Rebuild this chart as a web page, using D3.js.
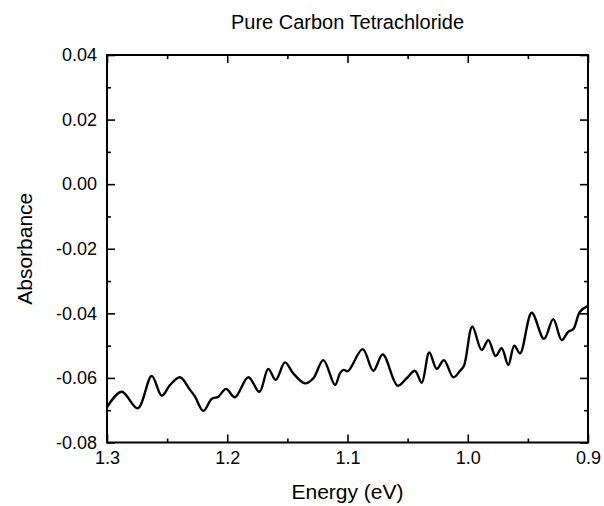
<!DOCTYPE html>
<html lang="en">
<head>
  <meta charset="UTF-8">
  <title>Pure Carbon Tetrachloride</title>
  <script src="https://d3js.org/d3.v7.min.js"></script>
  <style>
    body { margin: 0; background: #fff; }
    text { font-family: 'Liberation Sans', Arial, sans-serif; fill: #000; }
  </style>
</head>
<body>
  <svg width="604" height="506"></svg>
  <script>
    // spectrum (eV, absorbance)
    const energy = [
      1.3000, 1.2878, 1.2745, 1.2628, 1.2545, 1.2476, 1.2393, 1.2310, 1.2268, 1.2199,
      1.2129, 1.2074, 1.2010, 1.1936, 1.1825, 1.1733, 1.1659, 1.1597, 1.1520, 1.1451,
      1.1353, 1.1284, 1.1201, 1.1104, 1.1062, 1.1033, 1.0996, 1.0874, 1.0785, 1.0707,
      1.0583, 1.0508, 1.0439, 1.0383, 1.0320, 1.0258, 1.0198, 1.0120, 1.0064, 1.0031,
      0.9962, 0.9884, 0.9829, 0.9768, 0.9718, 0.9663, 0.9613, 0.9565, 0.9468, 0.9366,
      0.9289, 0.9219, 0.9164, 0.9122, 0.9067, 0.9000
    ];
    const absorbance = [
      -0.0691, -0.0643, -0.0694, -0.0594, -0.0655, -0.0622, -0.0598, -0.0637, -0.0658, -0.0702,
      -0.0665, -0.0658, -0.0634, -0.0660, -0.0598, -0.0643, -0.0572, -0.0606, -0.0552, -0.0586,
      -0.0617, -0.0601, -0.0545, -0.0622, -0.0585, -0.0575, -0.0579, -0.0511, -0.0578, -0.0527,
      -0.0624, -0.0601, -0.0578, -0.0615, -0.0521, -0.0572, -0.0545, -0.0598, -0.0578, -0.0562,
      -0.0441, -0.0514, -0.0483, -0.0532, -0.0508, -0.0560, -0.0500, -0.0524, -0.0398, -0.0479,
      -0.0418, -0.0483, -0.0457, -0.0449, -0.0395, -0.0377
    ];
    const xTicks = [1.3, 1.2, 1.1, 1.0, 0.9];
    const xMinor = [1.25, 1.15, 1.05, 0.95];
    const yTicks = [-0.08, -0.06, -0.04, -0.02, 0.00, 0.02, 0.04];
    const yMinor = [-0.07, -0.05, -0.03, -0.01, 0.01, 0.03];

    const plotL = 107, plotR = 588, plotT = 55, plotB = 442.5;
    const svg = d3.select("svg");

    const x = d3.scaleLinear().domain([1.3, 0.9]).range([plotL, plotR]);
    const y = d3.scaleLinear().domain([-0.08, 0.04]).range([plotB, plotT]);

    // inward ticks on all four sides, labels only bottom/left
    const g = svg.append("g");
    g.append("g").attr("transform", `translate(0,${plotB})`)
      .call(d3.axisBottom(x).tickValues(xTicks).tickSizeInner(-8).tickSizeOuter(0).tickPadding(9).tickFormat(d => d.toFixed(1)));
    g.append("g").attr("transform", `translate(0,${plotB})`)
      .call(d3.axisBottom(x).tickValues(xMinor).tickSizeInner(-4).tickSizeOuter(0).tickFormat(""));
    g.append("g").attr("transform", `translate(0,${plotT})`)
      .call(d3.axisTop(x).tickValues(xTicks).tickSizeInner(-8).tickSizeOuter(0).tickFormat(""));
    g.append("g").attr("transform", `translate(0,${plotT})`)
      .call(d3.axisTop(x).tickValues(xMinor).tickSizeInner(-4).tickSizeOuter(0).tickFormat(""));
    g.append("g").attr("transform", `translate(${plotL},0)`)
      .call(d3.axisLeft(y).tickValues(yTicks).tickSizeInner(-8).tickSizeOuter(0).tickPadding(10).tickFormat(d => d.toFixed(2)));
    g.append("g").attr("transform", `translate(${plotL},0)`)
      .call(d3.axisLeft(y).tickValues(yMinor).tickSizeInner(-4).tickSizeOuter(0).tickFormat(""));
    g.append("g").attr("transform", `translate(${plotR},0)`)
      .call(d3.axisRight(y).tickValues(yTicks).tickSizeInner(-8).tickSizeOuter(0).tickFormat(""));
    g.append("g").attr("transform", `translate(${plotR},0)`)
      .call(d3.axisRight(y).tickValues(yMinor).tickSizeInner(-4).tickSizeOuter(0).tickFormat(""));

    g.selectAll(".domain").remove();
    g.selectAll(".tick line").attr("stroke", "#000").attr("stroke-width", 1.6);
    g.selectAll("g").attr("font-family", null).attr("font-size", null);
    g.selectAll(".tick text").style("font-size", "18px").attr("fill", "#000");

    svg.append("rect")
      .attr("x", plotL).attr("y", plotT)
      .attr("width", plotR - plotL).attr("height", plotB - plotT)
      .attr("fill", "none").attr("stroke", "#000").attr("stroke-width", 2);

    const pts = energy.map((e, i) => [e, absorbance[i]]);
    const line = d3.line()
      .x(d => x(d[0]))
      .y(d => y(d[1]))
      .curve(d3.curveCatmullRom.alpha(0.5));

    svg.append("path")
      .datum(pts)
      .attr("d", line)
      .attr("fill", "none")
      .attr("stroke", "#000")
      .attr("stroke-width", 2.4)
      .attr("stroke-linejoin", "round");

    svg.append("text")
      .attr("x", (plotL + plotR) / 2).attr("y", 29)
      .attr("text-anchor", "middle")
      .style("font-size", "20px")
      .text("Pure Carbon Tetrachloride");

    svg.append("text")
      .attr("x", (plotL + plotR) / 2).attr("y", 499)
      .attr("text-anchor", "middle")
      .style("font-size", "21px")
      .text("Energy (eV)");

    svg.append("text")
      .attr("transform", `translate(32,${(plotT + plotB) / 2}) rotate(-90)`)
      .attr("text-anchor", "middle")
      .style("font-size", "21px")
      .text("Absorbance");
  </script>
</body>
</html>
